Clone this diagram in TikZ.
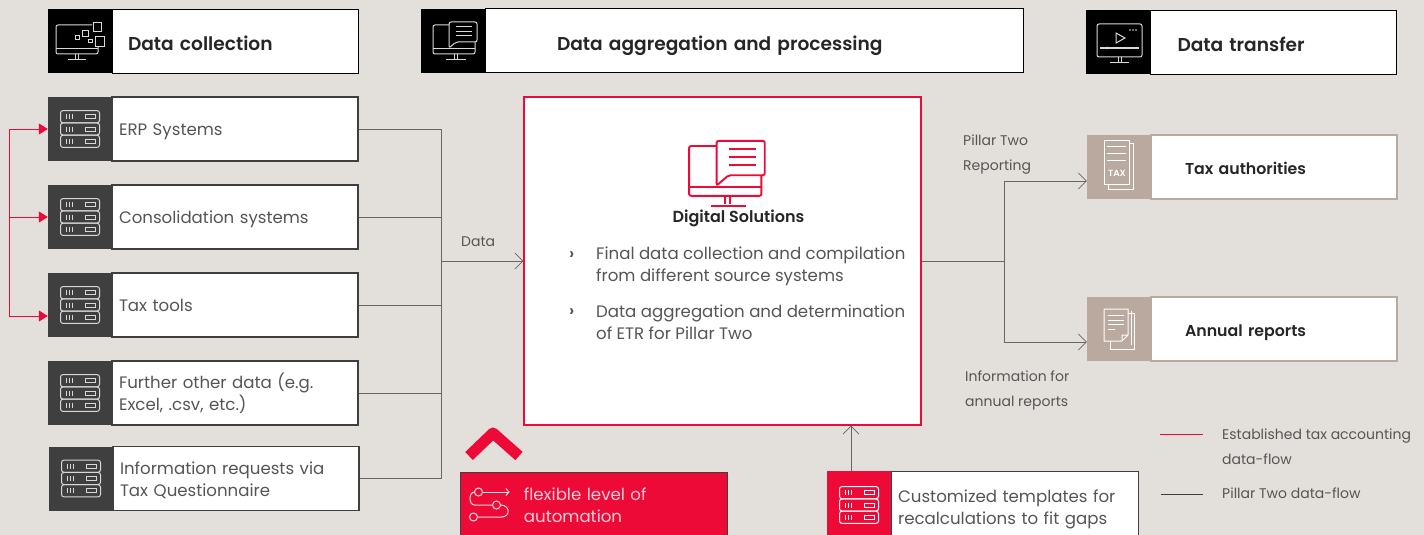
\documentclass[tikz,border=0pt]{standalone}
\usepackage{fontspec}
\setmainfont{Poppins}[BoldFont={Poppins SemiBold}]
\usetikzlibrary{arrows.meta}
\definecolor{paper}{HTML}{E3E0DB}
\definecolor{pwred}{HTML}{EE0A37}
\definecolor{slate}{HTML}{3F3F3F}
\definecolor{taupe}{HTML}{B9A99E}
\definecolor{bodygray}{HTML}{555555}
\definecolor{linegray}{HTML}{666666}
\newcommand{\toprule}[1]{\rule[-5pt]{0pt}{#1}}
\tikzstyle{iconblock} = [rectangle, minimum width=64pt, minimum height=64pt, inner sep=0pt, fill=slate]
\tikzstyle{headblock} = [iconblock, fill=black]
\tikzstyle{whitebox} = [rectangle, minimum width=246pt, minimum height=64pt, inner xsep=7pt, inner ysep=2pt, text width=232pt, align=left, draw=slate, line width=1.2pt, fill=white, text=bodygray, font=\fontsize{16.6}{22}\selectfont, execute at begin node={\toprule{23pt}}, execute at end node={\toprule{10pt}}]
\tikzstyle{headbox} = [whitebox, draw=black, line width=1pt, text=black!85, font=\fontsize{18.6}{22}\selectfont\bfseries, execute at begin node={\toprule{29pt}}]
\tikzstyle{targetbox} = [whitebox, draw=taupe, line width=1.5pt, text=black!85, font=\fontsize{15.8}{22}\selectfont\bfseries, execute at begin node={\toprule{25pt}}]
\tikzstyle{note} = [inner sep=0pt, anchor=west, text=bodygray, font=\fontsize{14}{16}\selectfont]
\tikzstyle{bodytext} = [inner sep=0pt, anchor=west, align=left, text=bodygray, font=\fontsize{16.6}{22}\selectfont]
\tikzstyle{arrow} = [line width=0.9pt, draw=linegray, -{Straight Barb[length=8pt,width=16pt,line width=0.7pt]}]
\tikzstyle{flow} = [line width=0.9pt, draw=linegray]
\tikzstyle{redarrow} = [line width=0.8pt, draw=pwred, -{Triangle[length=9pt,width=11pt]}]
\tikzset{
  serverpic/.pic={
    \foreach \row in {-12.3,0,12.3} {
      \draw [line width=1pt, rounded corners=2.5pt] (-19.5,\row-6.1) rectangle (19.5,\row+6.1);
      \draw [line width=1pt] (-14,\row-2.5) -- (-14,\row+2.5) (-11,\row-2.5) -- (-11,\row+2.5) (-8,\row-2.5) -- (-8,\row+2.5);
      \draw [line width=1pt] (5,\row-2) rectangle (15,\row+2);
    }
  },
  chatpic/.pic={
    \draw [rounded corners=2pt] (-4,-16) -- (-20,-16) -- (-20,13) -- (22,13) -- (22,1);
    \draw (-20,8) -- (22,8);
    \draw (1,13) -- (1,18) (4,13) -- (4,18) (-7,19) -- (13,19);
    \draw [rounded corners=2pt] (-4,-19) -- (24,-19) -- (24,1) -- (3,1) -- (-4,7) -- cycle;
    \draw (3,-14) -- (19,-14) (3,-9.5) -- (19,-9.5) (3,-5) -- (19,-5);
  },
  treepic/.pic={
    \draw [line width=1pt, rounded corners=2pt] (12,-17) -- (-24,-17) -- (-24,12) -- (18,12) -- (18,5);
    \draw [line width=1pt] (-24,7) -- (18,7);
    \draw [line width=1pt] (-5,12) -- (-5,17) (-2,12) -- (-2,17) (-12,18) -- (6,18);
    \foreach \xa/\ya/\xb/\yb in {13/-19/21/-10, 15/-5/24/5, 2/-11/8/-5, -5/-6/-1/-2, 8/-2/12/1} {
      \draw [line width=1pt, fill=black] (\xa,\ya) rectangle (\xb,\yb);
    }
  },
  playpic/.pic={
    \draw [line width=1pt, rounded corners=2pt] (-21,-18) rectangle (24,15);
    \draw [line width=2pt] (-18,6) -- (21,6);
    \fill (-11,6) circle (1.5);
    \draw [line width=1pt] (-2,-9) -- (7,-4) -- (-2,1) -- cycle;
    \fill (12,-12) circle (0.8) (15,-12) circle (0.8) (18,-12) circle (0.8);
    \draw [line width=1pt] (0,15) -- (0,20) (3,15) -- (3,20) (-8,21) -- (11,21);
  },
  taxpic/.pic={
    \draw [line width=1pt] (10,-24) -- (14,-24) -- (14,22) -- (-11,22) -- (-11,17);
    \draw [line width=1pt] (-15,-27) rectangle (10,17);
    \draw [line width=1pt] (-12,-21) -- (7,-21) (-12,-14) -- (7,-14) (-12,-7) -- (7,-7);
    \node (taxmark) at (-2,6) [inner sep=0pt, font=\fontsize{9}{9}\selectfont\bfseries] {TAX};
  },
  reportpic/.pic={
    \draw [line width=1pt] (9,-16) -- (15,-16) -- (15,20) -- (-9,20) -- (-9,12);
    \draw [line width=1pt] (12,-18) -- (12,16);
    \draw [line width=1pt] (-15,-20) -- (9,-20) -- (9,6) -- (3,12) -- (-15,12) -- cycle (3,12) -- (3,6) -- (9,6);
    \draw [line width=1pt] (-11,-14) -- (5,-14) (-11,-9) -- (5,-9) (-11,-5) -- (5,-5) (-11,0) -- (-4,0);
  },
  switchpic/.pic={
    \draw [line width=1pt] (-11,-13) circle (4);
    \draw [line width=1pt, -{Straight Barb[length=3pt,width=7pt]}] (-7,-13) -- (20,-13);
    \draw [line width=1pt] (-15,-13) .. controls (-21,-13) and (-21,0) .. (-15,0) -- (3,0);
    \draw [line width=1pt] (7,0) circle (4);
    \draw [line width=1pt] (11,0) .. controls (21,0) and (21,12) .. (12,12) -- (-12,12);
    \draw [line width=1pt] (-16,12) circle (4);
  }
}
\begin{document}
\begin{tikzpicture}[x=1pt, y=-1pt]

\useasboundingbox (0,0) rectangle (1424,535);
\clip (0,0) rectangle (1424,535);
\fill [paper] (0,0) rectangle (1424,535);

%% NODES

\node (collect_icon) [headblock] at (80,41.5) {};
\node (collect) [headbox, right of=collect_icon, node distance=155pt] {\hspace*{9pt}Data collection};
\node (erp_icon) [iconblock, below of=collect_icon, node distance=87.5pt] {};
\node (erp) [whitebox, right of=erp_icon, node distance=155pt] {ERP Systems};
\node (cons_icon) [iconblock, below of=erp_icon, node distance=88pt] {};
\node (cons) [whitebox, right of=cons_icon, node distance=155pt] {Consolidation systems};
\node (tools_icon) [iconblock, below of=cons_icon, node distance=88pt] {};
\node (tools) [whitebox, right of=tools_icon, node distance=155pt] {Tax tools};
\node (further_icon) [iconblock, below of=tools_icon, node distance=88pt] {};
\node (further) [whitebox, right of=further_icon, node distance=155pt] {Further other data (e.g.\\Excel, .csv, etc.)};
\node (info_icon) [iconblock, below of=further_icon, node distance=85.5pt, xshift=1pt] {};
\node (info) [whitebox, right of=info_icon, node distance=155pt] {Information requests via\\Tax Questionnaire};

\node (aggregate_icon) [headblock] at (453,41) {};
\node (aggregate) [headbox, right of=aggregate_icon, node distance=301pt, minimum width=538pt, text width=524pt] {\hspace*{65pt}Data aggregation and processing};
\node (digital) [rectangle, draw=pwred, line width=1.2pt, fill=white, minimum width=397pt, minimum height=328pt] at (722.5,261) {};
\node (digital_title) [font=\fontsize{16}{22}\selectfont\bfseries, text=black!85, inner sep=0pt] at (738.5,218) {Digital Solutions};
\node (final_sign) [bodytext, font=\fontsize{16.6}{22}\selectfont\bfseries] at (569,256) {›};
\node (final_text) [bodytext] at (596,266) {Final data collection and compilation\\from different source systems};
\node (etr_sign) [bodytext, font=\fontsize{16.6}{22}\selectfont\bfseries] at (569,313) {›};
\node (etr_text) [bodytext] at (596,322) {Data aggregation and determination\\of ETR for Pillar Two};

\node (transfer_icon) [headblock, minimum width=65pt] at (1118.5,42.5) {};
\node (transfer) [headbox, right of=transfer_icon, node distance=155pt] {\hspace*{20pt}Data transfer};
\node (authority_icon) [iconblock, fill=taupe] at (1119,167) {};
\node (authority) [targetbox, right of=authority_icon, node distance=155pt] {\hspace*{27pt}Tax authorities};
\node (annual_icon) [iconblock, fill=taupe, below of=authority_icon, node distance=162pt] {};
\node (annual) [targetbox, right of=annual_icon, node distance=155pt] {\hspace*{27pt}Annual reports};

\node (flexible) [whitebox, draw=slate, line width=0.8pt, fill=pwred, minimum width=267pt, minimum height=66pt, text width=140pt, text=white!80!pwred, anchor=north west] at (460,472) {flexible level of\\automation};
\node (custom_icon) [iconblock, fill=pwred, anchor=north west, minimum height=70pt] at (827,471) {};
\node (custom) [whitebox, anchor=north west, minimum height=70pt, text width=233pt] at (890.5,471) {Customized templates for\\recalculations to fit gaps};

\node (data_label) [note] at (461,242) {Data};
\node (pillar_label) [note, align=left] at (963,154.5) {Pillar Two\\[9pt]Reporting};
\node (info_label) [note, align=left] at (965,390.5) {Information for\\[9pt]annual reports};
\node (legend_red) [note, align=left] at (1222,446.5) {Established tax accounting\\[9pt]data-flow};
\node (legend_gray) [note] at (1222,493) {Pillar Two data-flow};

\coordinate (bus) at (441,129);
\coordinate (fork) at (1004,261);
\coordinate (redbus) at (9,129);
\coordinate (legend_red_a) at (1160,434);
\coordinate (legend_gray_a) at (1161,494);

%% ICONS

\pic [white!85!black] at (80,42) {treepic};
\foreach \icon in {erp_icon,cons_icon,tools_icon,further_icon,info_icon} {
  \pic [white!80!slate] at (\icon) {serverpic};
}
\pic [white!85!black, line width=1pt] at (453,41) {chatpic};
\pic [pwred, scale=1.72, line width=1.9pt] at (723.5,173.5) {chatpic};
\pic [white!85!black] at (1118,42) {playpic};
\pic [white] at (1119,167) {taxpic};
\pic [white] at (1119,329) {reportpic};
\pic [white!85!pwred] at (489.5,505) {switchpic};
\pic [white] at (859,505) {serverpic};

% the chevron above the automation box
\draw [pwred, line width=11pt, line join=round] (469,456) -- (493,433) -- (519,456);

%% ARROWS

\draw [flow] (erp.east) -- (erp.east -| bus);
\draw [flow] (cons.east) -- (cons.east -| bus);
\draw [flow] (tools.east) -- (tools.east -| bus);
\draw [flow] (further.east) -- (further.east -| bus);
\draw [flow] (info.east) -- (info.east -| bus);
\draw [flow] (bus) -- (info.east -| bus);
\draw [arrow] (digital.west -| bus) -- (digital.west);
\draw [flow] (digital.east) -- (fork);
\draw [arrow] (fork) |- ([yshift=-14pt]authority_icon.west);
\draw [arrow] (fork) |- ([yshift=-13pt]annual_icon.west);
\draw [arrow] (custom_icon.north -| 851,0) -- (digital.south -| 851,0);

\draw [redarrow] (redbus) -- (erp_icon.west);
\draw [redarrow] (redbus |- cons_icon.west) -- (cons_icon.west);
\draw [redarrow] (redbus) |- ([yshift=-11pt]tools_icon.west);

\draw [draw=pwred, line width=0.9pt] (legend_red_a) -- ++(43,0);
\draw [flow, draw=slate] (legend_gray_a) -- ++(42,0);

\end{tikzpicture}
\end{document}
